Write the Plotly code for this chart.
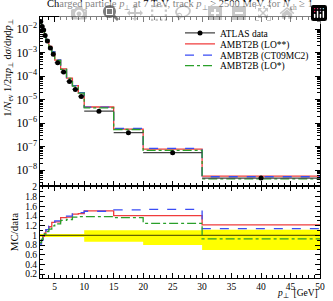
import plotly.graph_objects as go

# bin edges (GeV)
edges = [2.5, 2.75, 3.0, 3.25, 3.5, 4.0, 4.5, 5.0, 6.0, 7.0, 8.0, 9.0, 10.0, 15.0, 20.0, 30.0, 50.0]
# ATLAS data values
atlas = [2.1e-2, 1.28e-2, 9.0e-3, 5.3e-3, 3.1e-3, 1.55e-3, 8.5e-4, 3.7e-4,
         1.47e-4, 5.9e-5, 2.7e-5, 1.35e-5, 3.2e-6, 3.9e-7, 5.5e-8, 4.6e-9]
# relative data uncertainty (band, up / down)
rel_up = [0.03, 0.03, 0.03, 0.03, 0.03, 0.03, 0.03, 0.03, 0.03, 0.03, 0.03, 0.03, 0.11, 0.11, 0.11, 0.12]
rel_dn = [0.03, 0.03, 0.03, 0.03, 0.03, 0.03, 0.03, 0.03, 0.03, 0.03, 0.03, 0.03, 0.13, 0.13, 0.20, 0.30]
# MC / data ratios
ratio_lo2 = [0.84, 0.92, 0.98, 1.05, 1.12, 1.18, 1.27, 1.28, 1.37, 1.38, 1.44, 1.45, 1.51, 1.41, 1.41, 1.22]
ratio_ct09 = [0.82, 0.90, 0.97, 1.05, 1.12, 1.19, 1.27, 1.30, 1.38, 1.40, 1.45, 1.47, 1.50, 1.53, 1.54, 1.14]
ratio_lo1 = [0.85, 0.92, 0.97, 1.03, 1.08, 1.13, 1.20, 1.24, 1.31, 1.33, 1.38, 1.39, 1.39, 1.37, 1.25, 0.93]

series = [
    ("AMBT2B (LO**)", ratio_lo2, "#f03c3c", "solid", "legend2"),
    ("AMBT2B (CT09MC2)", ratio_ct09, "#3a4cf5", "dash", "legend3"),
    ("AMBT2B (LO*)", ratio_lo1, "#2aa02a", "dashdot", "legend4"),
]

centers = [(edges[i] + edges[i + 1]) / 2 for i in range(len(atlas))]
halfw = [(edges[i + 1] - edges[i]) / 2 for i in range(len(atlas))]

def stepy(vals):
    return list(vals) + [vals[-1]]

FONT = "Liberation Serif"
fig = go.Figure()

# ---- ratio band
fig.add_trace(go.Scatter(x=edges, y=stepy([1 + u for u in rel_up]), mode="lines",
                         line=dict(width=0, shape="hv", color="#ffff00"),
                         xaxis="x2", yaxis="y2", showlegend=False, hoverinfo="skip"))
fig.add_trace(go.Scatter(x=edges, y=stepy([1 - d for d in rel_dn]), mode="lines",
                         line=dict(width=0, shape="hv", color="#ffff00"),
                         fill="tonexty", fillcolor="#ffff00",
                         xaxis="x2", yaxis="y2", showlegend=False, hoverinfo="skip"))
fig.add_trace(go.Scatter(x=[edges[0], edges[-1]], y=[1, 1], mode="lines",
                         line=dict(width=1.2, color="#666600"),
                         xaxis="x2", yaxis="y2", showlegend=False, hoverinfo="skip"))

# ---- MC lines
for name, r, col, dash, lg in series:
    mc = [a * b for a, b in zip(atlas, r)]
    fig.add_trace(go.Scatter(x=edges, y=stepy(mc), mode="lines",
                             line=dict(color=col, dash=dash, width=1.3, shape="hv"),
                             xaxis="x", yaxis="y", showlegend=False))
    fig.add_trace(go.Scatter(x=edges, y=stepy(r), mode="lines",
                             line=dict(color=col, dash=dash, width=1.3, shape="hv"),
                             xaxis="x2", yaxis="y2", showlegend=False))

# ---- data
fig.add_trace(go.Scatter(x=centers, y=atlas, mode="markers",
                         marker=dict(color="black", size=5),
                         error_x=dict(type="data", array=halfw, color="#444444", thickness=1.3, width=0),
                         xaxis="x", yaxis="y", showlegend=False))

# ---- legend entries (one legend per row for tight spacing)
fig.add_trace(go.Scatter(x=[None], y=[None], mode="lines+markers", name="ATLAS data", legend="legend",
                         line=dict(color="#444444", width=1.3), marker=dict(color="black", size=5)))
for name, r, col, dash, lg in series:
    fig.add_trace(go.Scatter(x=[None], y=[None], mode="lines", name=name, legend=lg,
                             line=dict(color=col, dash=dash, width=1.3)))

axis_common = dict(showline=True, linecolor="black", linewidth=1, mirror="allticks",
                   ticks="inside", ticklen=5, tickcolor="black", showgrid=False, zeroline=False,
                   tickfont=dict(family=FONT, size=9.5, color="black"))

def leg(y):
    return dict(x=0.5, y=y, xanchor="left", yanchor="middle", bgcolor="rgba(0,0,0,0)",
                font=dict(family=FONT, size=9.5), itemwidth=30)

fig.update_layout(
    width=333, height=301,
    margin=dict(l=40, r=8, t=17, b=23),
    paper_bgcolor="white", plot_bgcolor="white",
    font=dict(family=FONT, size=10, color="black"),
    title=dict(text="Charged particle <i>p</i><sub>⊥</sub> at 7 TeV, track <i>p</i><sub>⊥</sub> > 2500 MeV, for <i>N</i><sub>ch</sub> ≥ 1",
               x=0.5, xref="paper", xanchor="center", y=1.0, yref="container", yanchor="top",
               pad=dict(t=0, b=0), font=dict(family=FONT, size=10.5)),
    xaxis=dict(axis_common, range=[2.5, 50], domain=[0, 1], anchor="y", showticklabels=False,
               tickvals=[5, 10, 15, 20, 25, 30, 35, 40, 45, 50],
               minor=dict(ticks="inside", ticklen=3, dtick=1, tickcolor="black")),
    yaxis=dict(axis_common, type="log", range=[-8.68, -1.49], domain=[0.352, 1], anchor="x",
               exponentformat="power", dtick=1,
               minor=dict(ticks="inside", ticklen=3, tickcolor="black")),
    xaxis2=dict(axis_common, range=[2.5, 50], domain=[0, 1], anchor="y2",
                tickvals=[5, 10, 15, 20, 25, 30, 35, 40, 45, 50],
                minor=dict(ticks="inside", ticklen=3, dtick=1, tickcolor="black")),
    yaxis2=dict(axis_common, range=[0.12, 2.02], domain=[0, 0.352], anchor="x2",
                tickvals=[0.2, 0.4, 0.6, 0.8, 1, 1.2, 1.4, 1.6, 1.8, 2],
                ticktext=["0.2", "0.4", "0.6", "0.8", "1", "1.2", "1.4", "1.6", "1.8", "2"],
                minor=dict(ticks="inside", ticklen=3, dtick=0.1, tickcolor="black"),
                title=dict(text="MC/data", font=dict(family=FONT, size=11), standoff=4)),
    legend=leg(0.939),
    legend2=leg(0.897),
    legend3=leg(0.854),
    legend4=leg(0.814),
    annotations=[
        dict(text="<i>p</i><sub>⊥</sub>  [GeV]", xref="paper", yref="paper",
             x=1, y=0, xanchor="right", yanchor="bottom", yshift=-23, showarrow=False,
             font=dict(family=FONT, size=9.5)),
        dict(text="1/<i>N</i><sub>ev</sub> 1/2π<i>p</i><sub>⊥</sub> d<i>σ</i>/d<i>η</i>d<i>p</i><sub>⊥</sub>",
             xref="paper", yref="paper", x=-0.115, y=1, xanchor="center", yanchor="top",
             textangle=-90, showarrow=False, font=dict(family=FONT, size=10.5)),
    ],
)

fig.write_html("out.html",
               post_script="document.body.style.margin='0px';document.body.style.overflow='hidden';")
